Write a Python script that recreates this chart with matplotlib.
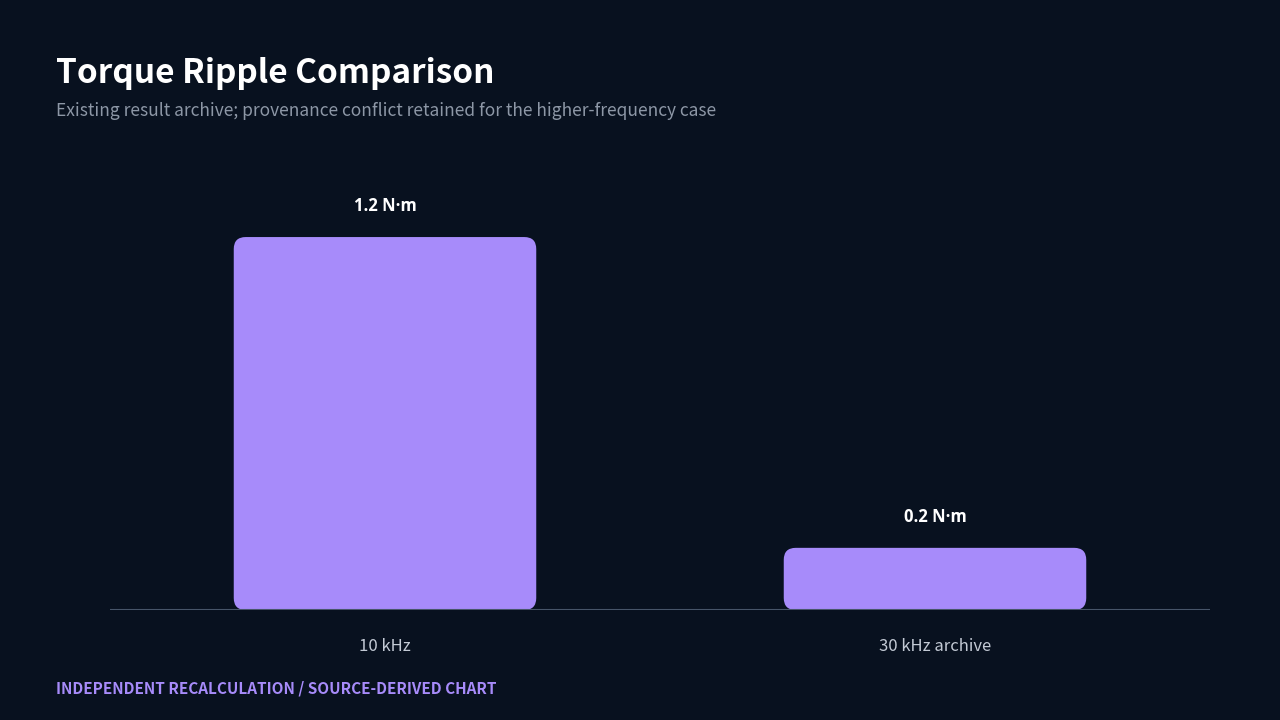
import matplotlib
matplotlib.use("Agg")
import matplotlib.pyplot as plt
from matplotlib.patches import FancyBboxPatch

plt.rcParams['font.family'] = ['Noto Sans CJK KR', 'DejaVu Sans']

categories = ["10 kHz", "30 kHz archive"]
values = [1.2, 0.2]
value_labels = ["1.2 N·m", "0.2 N·m"]

title = "Torque Ripple Comparison"
subtitle = "Existing result archive; provenance conflict retained for the higher-frequency case"
footer = "INDEPENDENT RECALCULATION / SOURCE-DERIVED CHART"

BG = "#08111f"
BAR = "#a78bfa"

W, H = 1280, 720
fig = plt.figure(figsize=(12.8, 7.2), dpi=100, facecolor=BG)
ax = fig.add_axes([110 / W, 110 / H, 1100 / W, 450 / H])
ax.set_facecolor(BG)

x = list(range(len(categories)))
ax.set_xlim(-0.5, len(categories) - 0.5)
ax.set_ylim(0, 450 / 310.8)

fig.canvas.draw()
p0 = ax.transData.transform((0, 0))
p1 = ax.transData.transform((1, 1))
px_x = p1[0] - p0[0]
px_y = p1[1] - p0[1]
radius_px = 12
r = radius_px / px_x
aspect = px_x / px_y

bw = 0.55
for xi, v, lab in zip(x, values, value_labels):
    patch = FancyBboxPatch((xi - bw / 2, 0), bw, v,
                           boxstyle=f"round,pad=0,rounding_size={r}",
                           mutation_aspect=aspect,
                           facecolor=BAR, edgecolor="none", zorder=2)
    ax.add_patch(patch)
    ax.annotate(lab, (xi, v), xytext=(0, 18.7), textcoords="offset points",
                ha="center", va="baseline", color="white", fontsize=12,
                fontweight="bold", family=["Open Sans", "DejaVu Sans"])

ax.axhline(0, color="#475569", lw=1.5, zorder=3)
for s in ax.spines.values():
    s.set_visible(False)
ax.set_yticks([])
ax.set_xticks(x)
ax.set_xticklabels(categories, color="#c3cad5", fontsize=12)
ax.tick_params(axis="x", length=0, pad=20)

fig.text(56 / W, 1 - 83 / H, title, color="white", fontsize=24,
         fontweight="bold", ha="left", va="baseline")
fig.text(56 / W, 1 - 116 / H, subtitle, color="#8d97a6", fontsize=12.5,
         ha="left", va="baseline")
fig.text(56 / W, 1 - 694 / H, footer, color=BAR, fontsize=11,
         fontweight="bold", ha="left", va="baseline")

fig.savefig("out.png", dpi=100, facecolor=BG)
